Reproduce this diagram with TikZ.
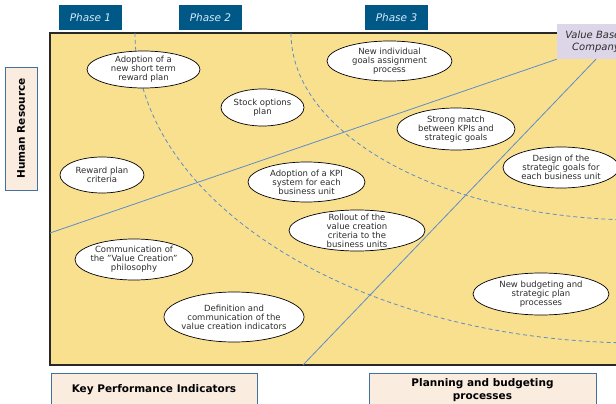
\documentclass[tikz,border=0pt]{standalone}
\usepackage{fontspec}
\setmainfont{DejaVu Sans}
\usepackage{tikz}

\definecolor{sand}{RGB}{249,224,143}
\definecolor{frame}{RGB}{40,40,40}
\definecolor{phaseblue}{RGB}{0,88,135}
\definecolor{phasetext}{RGB}{215,232,248}
\definecolor{lavender}{RGB}{221,214,232}
\definecolor{peach}{RGB}{251,236,224}
\definecolor{boxborder}{RGB}{65,113,156}
\definecolor{lineblue}{RGB}{91,141,201}
\definecolor{textgray}{RGB}{45,45,45}

\tikzset{
        goal/.style={draw=black,fill=white,line width=.7pt},
        goaltext/.style={align=center,text=textgray,inner sep=0pt,
            font=\fontsize{8.5}{9}\selectfont},
        phase/.style={fill=phaseblue,text=phasetext,minimum width=63,minimum height=25,
            font=\fontsize{10.5}{12}\selectfont\itshape},
        area/.style={draw=boxborder,fill=peach,line width=.8pt,align=center,text=black,
            font=\fontsize{10.5}{13}\selectfont\bfseries},
        axis/.style={draw=lineblue,line width=.8pt},
        wave/.style={draw=lineblue,line width=.8pt,dash pattern=on 4pt off 3pt}
    }

\begin{document}
\begin{tikzpicture}[x=1pt,y=-1pt]
\useasboundingbox (0,0) rectangle (616,404);
\clip (0,0) rectangle (616,404);

\draw[fill=sand,draw=frame,line width=1.2pt] (50,33) rectangle (640,365);

\draw[wave] (135,33) arc[start angle=180,end angle=90,x radius=505,y radius=310];
\draw[wave] (291,33) arc[start angle=180,end angle=90,x radius=349,y radius=187];

\draw (596,41.5) node(VBC)[fill=lavender,minimum width=78,minimum height=35,align=center,
    text=textgray,font=\fontsize{10}{12}\selectfont\itshape]{Value Based\\Company};

\coordinate (HRL) at (50,233);
\coordinate (KPB) at (303,365);
\draw[axis] (HRL) -- (VBC.south west);
\draw[axis] (KPB) -- (VBC.south);

\draw (90.5,17.5) node(PH1)[phase]{Phase 1};
\draw (210.5,17.5) node(PH2)[phase]{Phase 2};
\draw (396.5,17.5) node(PH3)[phase]{Phase 3};

\draw (21,128.5) node(HR)[area,rotate=90,minimum width=123,minimum height=32]{Human Resource};
\draw (154,390) node(KPIS)[area,minimum width=206,minimum height=34]{Key Performance Indicators};
\draw (482.5,390) node(PLAN)[area,minimum width=227,minimum height=34]{Planning and budgeting\\processes};

\draw[goal] (143.5,69.5) ellipse [x radius=56.5,y radius=18.5]
    node(ADOPT)[goaltext]{Adoption of a\\new short term\\reward plan};
\draw[goal] (262.5,107.5) ellipse [x radius=41.5,y radius=18.5]
    node(STOCK)[goaltext]{Stock options\\plan};
\draw[goal] (102,175) ellipse [x radius=42,y radius=18]
    node(CRIT)[goaltext]{Reward plan\\criteria};
\draw[goal] (306.5,182) ellipse [x radius=58.5,y radius=20]
    node(KPISYS)[goaltext]{Adoption of a KPI\\system for each\\business unit};
\draw[goal] (357,230.5) ellipse [x radius=68,y radius=20.5]
    node(ROLL)[goaltext]{Rollout of the\\value creation\\criteria to the\\business units};
\draw[goal] (389.5,61) ellipse [x radius=62.5,y radius=20]
    node(INDIV)[goaltext]{New individual\\goals assignment\\process};
\draw[goal] (456,129) ellipse [x radius=59,y radius=21]
    node(MATCH)[goaltext]{Strong match\\between KPIs and\\strategic goals};
\draw[goal] (561,167.5) ellipse [x radius=58,y radius=20.5]
    node(DESIGN)[goaltext]{Design of the\\strategic goals for\\each business unit};
\draw[goal] (134,259.5) ellipse [x radius=59,y radius=20.5]
    node(COMM)[goaltext]{Communication of\\the "Value Creation"\\philosophy};
\draw[goal] (234,317) ellipse [x radius=70,y radius=25]
    node(DEF)[goaltext]{Definition and\\communication of the\\value creation indicators};
\draw[goal] (541,294) ellipse [x radius=68,y radius=21]
    node(BUDG)[goaltext]{New budgeting and\\strategic plan\\processes};

\end{tikzpicture}
\end{document}
